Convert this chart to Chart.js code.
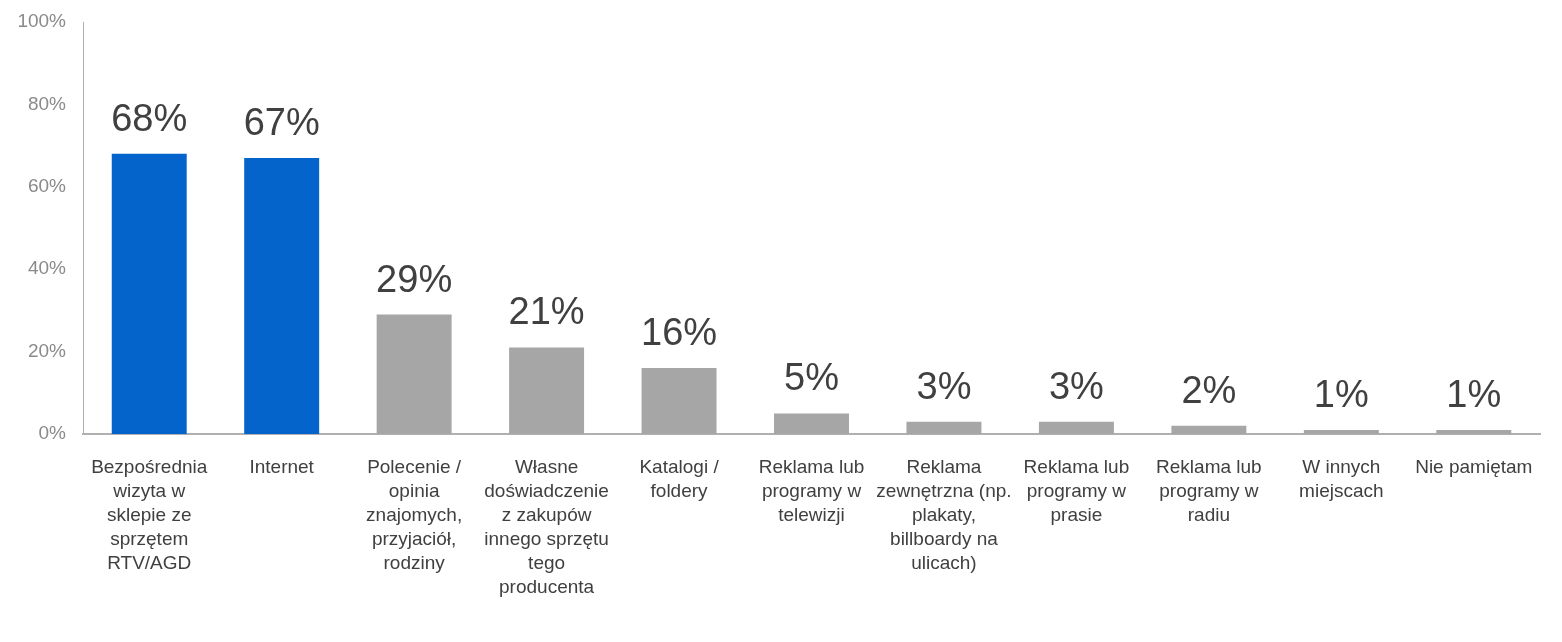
<!DOCTYPE html>
<html>
<head>
<meta charset="utf-8">
<script src="https://cdn.jsdelivr.net/npm/chart.js@4"></script>
<style>
  html, body { margin: 0; padding: 0; background: #fff; }
  #wrap { width: 1562px; height: 642px; }
</style>
</head>
<body>
<div id="wrap"><canvas id="chart" width="1562" height="642"></canvas></div>
<script>
// ─── Data ──────────────────────────────────────────────────────────────────────
const categories = [
  ['Bezpośrednia', 'wizyta w', 'sklepie ze', 'sprzętem', 'RTV/AGD'],
  ['Internet'],
  ['Polecenie /', 'opinia', 'znajomych,', 'przyjaciół,', 'rodziny'],
  ['Własne', 'doświadczenie', 'z zakupów', 'innego sprzętu', 'tego', 'producenta'],
  ['Katalogi /', 'foldery'],
  ['Reklama lub', 'programy w', 'telewizji'],
  ['Reklama', 'zewnętrzna (np.', 'plakaty,', 'billboardy na', 'ulicach)'],
  ['Reklama lub', 'programy w', 'prasie'],
  ['Reklama lub', 'programy w', 'radiu'],
  ['W innych', 'miejscach'],
  ['Nie pamiętam']
];
const values = [68, 67, 29, 21, 16, 5, 3, 3, 2, 1, 1];
const highlighted = [true, true, false, false, false, false, false, false, false, false, false];
const yTicks = [0, 20, 40, 60, 80, 100];

const BLUE = '#0464CB';
const GREY = '#A6A6A6';
const FONT = '"Liberation Sans", Arial, sans-serif';

// ─── Value labels above bars ───────────────────────────────────────────────────
const valueLabels = {
  id: 'valueLabels',
  afterDatasetsDraw(chart) {
    const ctx = chart.ctx;
    const meta = chart.getDatasetMeta(0);
    ctx.save();
    ctx.font = `38px ${FONT}`;
    ctx.fillStyle = '#404040';
    ctx.textAlign = 'center';
    ctx.textBaseline = 'alphabetic';
    meta.data.forEach((bar, i) => {
      ctx.fillText(values[i] + '%', bar.x, bar.y - 23);
    });
    ctx.restore();
  }
};

new Chart(document.getElementById('chart'), {
  type: 'bar',
  data: {
    labels: categories,
    datasets: [{
      data: values,
      backgroundColor: highlighted.map(h => h ? BLUE : GREY),
      borderWidth: 0,
      categoryPercentage: 1,
      barPercentage: 0.566
    }]
  },
  options: {
    responsive: false,
    animation: false,
    layout: { padding: { top: 22, right: 22, left: 0, bottom: 0 } },
    plugins: { legend: { display: false }, tooltip: { enabled: false } },
    scales: {
      x: {
        grid: { display: false, drawTicks: false },
        border: { color: '#B0B0B0', width: 2 },
        ticks: {
          color: '#404040',
          font: { family: FONT, size: 19, lineHeight: '24px' },
          padding: 22,
          maxRotation: 0,
          autoSkip: false
        },
        afterFit(scale) { scale.height = 208; }
      },
      y: {
        min: 0,
        max: 100,
        afterBuildTicks(scale) { scale.ticks = yTicks.map(v => ({ value: v })); },
        grid: { display: false, drawTicks: false },
        border: { color: '#B0B0B0', width: 1 },
        ticks: {
          color: '#8A8A8A',
          font: { family: FONT, size: 19 },
          padding: 17,
          callback: v => v + '%'
        },
        afterFit(scale) {
          // top of the plot is set by layout padding, not by the tick label
          scale.width = 83;
          scale.paddingTop = 0;
          scale.paddingBottom = 0;
        }
      }
    }
  },
  plugins: [valueLabels]
});
</script>
</body>
</html>
